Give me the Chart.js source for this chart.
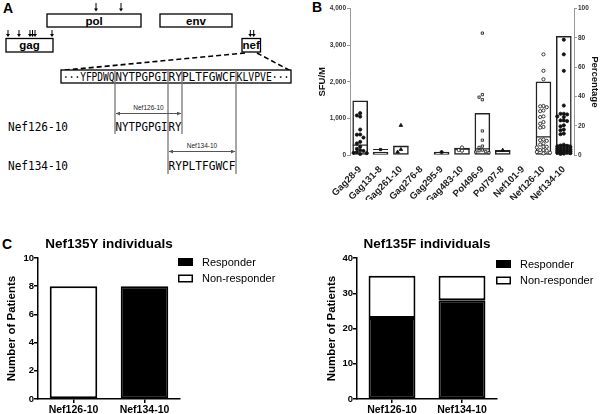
<!DOCTYPE html>
<html>
<head>
<meta charset="utf-8">
<script src="https://cdn.jsdelivr.net/npm/chart.js@4.4.1/dist/chart.umd.min.js"></script>
<style>
  html, body { margin: 0; padding: 0; background: #fff; }
  body { width: 600px; height: 414px; position: relative; overflow: hidden; font-family: 'Liberation Sans', Arial, sans-serif; }
  .letter { position: absolute; font-weight: bold; font-size: 14px; line-height: 14px; }
  canvas, svg { position: absolute; }
</style>
</head>
<body>
<div class="letter" style="left:3px;top:1px">A</div>
<div class="letter" style="left:312px;top:0px">B</div>
<div class="letter" style="left:2px;top:237px">C</div>

<svg id="panelA" width="300" height="200" style="left:0;top:0" font-family="'Liberation Sans', Arial, sans-serif">
  <defs>
    <marker id="tip" viewBox="0 0 6 6" refX="6" refY="3" markerWidth="4" markerHeight="4" orient="auto-start-reverse">
      <path d="M0,0 L6,3 L0,6 Z" fill="#555"/>
    </marker>
  </defs>
  <g id="arrows"></g>
  <g stroke="#000" stroke-width="1.6" stroke-dasharray="5 3" fill="none">
    <line x1="245" y1="53" x2="61" y2="70.5"/>
    <line x1="257" y1="53" x2="290" y2="70.5"/>
  </g>
  <g stroke="#000" stroke-width="1.3" fill="#fff">
    <rect x="47" y="14" width="94" height="13"/>
    <rect x="160" y="14" width="72" height="13"/>
    <rect x="6" y="38.5" width="47" height="13.5"/>
    <rect x="242" y="38.5" width="18.5" height="13.5"/>
    <rect x="61" y="70" width="230" height="13"/>
  </g>
  <g font-weight="bold" font-size="11.5" text-anchor="middle">
    <text x="94" y="24.5">pol</text>
    <text x="196" y="24.5">env</text>
    <text x="29.5" y="49">gag</text>
    <text x="251.2" y="49">nef</text>
  </g>
  <g stroke="#777" stroke-width="1.3">
    <line x1="115" y1="70" x2="115" y2="134"/>
    <line x1="168" y1="70" x2="168" y2="174"/>
    <line x1="182" y1="70" x2="182" y2="134"/>
    <line x1="236" y1="70" x2="236" y2="174"/>
  </g>
  <g font-family="'DejaVu Sans Mono', monospace" font-size="12.5" fill="#000">
    <text x="63" y="81" textLength="51.5" lengthAdjust="spacingAndGlyphs">···YFPDWQ</text>
    <text x="115.5" y="81" textLength="52" lengthAdjust="spacingAndGlyphs">NYTPGPGI</text>
    <text x="168.5" y="81" textLength="67" lengthAdjust="spacingAndGlyphs">RYPLTFGWCF</text>
    <text x="236.5" y="81" textLength="53" lengthAdjust="spacingAndGlyphs">KLVPVE···</text>
    <text x="8" y="131" textLength="60" lengthAdjust="spacingAndGlyphs">Nef126-10</text>
    <text x="8" y="170" textLength="60" lengthAdjust="spacingAndGlyphs">Nef134-10</text>
    <text x="115.5" y="131" textLength="52" lengthAdjust="spacingAndGlyphs">NYTPGPGI</text>
    <text x="168.5" y="131" textLength="13" lengthAdjust="spacingAndGlyphs">RY</text>
    <text x="168.5" y="170" textLength="67" lengthAdjust="spacingAndGlyphs">RYPLTFGWCF</text>
  </g>
  <g stroke="#555" stroke-width="1">
    <line x1="116" y1="113.5" x2="181" y2="113.5" marker-start="url(#tip)" marker-end="url(#tip)"/>
    <line x1="169" y1="151.5" x2="235" y2="151.5" marker-start="url(#tip)" marker-end="url(#tip)"/>
  </g>
  <g font-size="6.5" text-anchor="middle" fill="#222">
    <text x="148.5" y="109.5">Nef126-10</text>
    <text x="202" y="147.5">Nef134-10</text>
  </g>
</svg>

<canvas id="chartB" width="300" height="200" style="left:300px;top:0"></canvas>
<canvas id="chartC1" width="300" height="182" style="left:0;top:232px"></canvas>
<canvas id="chartC2" width="300" height="182" style="left:300px;top:232px"></canvas>

<script>
// ---- panel B data ----
const epitopes = ['Gag28-9', 'Gag131-8', 'Gag261-10', 'Gag276-8', 'Gag295-9', 'Gag483-10',
  'Pol496-9', 'Pol797-8', 'Nef101-9', 'Nef126-10', 'Nef134-10'];
const responderPct = [37, 2, 6.3, 0, 2, 4.7, 28.4, 3.2, 0, 50, 81];
const medianSfu = [270, 150, 225, null, null, 160, 170, 100, null, 495, 270];

const gag28 = [1144, 1080, 1050, 694, 560, 555, 477, 360, 315, 225, 170, 130, 110, 80, 60, 50, 30];
const gag131 = [150];
const gag261 = [810, 150, 80];
const gag276 = [];
const gag295 = [80];
const gag483 = [207, 135, 117];
const pol496 = [3330, 1650, 1580, 1510, 658, 405, 243, 207, 135, 117, 90, 80, 63];
const pol797 = [130];
const nef101 = [];
const nef126 = [2750, 2300, 2070, 1340, 1330, 1306, 1216, 1198, 1054, 1036, 900, 855, 766, 748,
  423, 405, 387, 315, 288, 225, 225, 207, 135, 135, 117, 81, 63, 45];
const nef134 = [3150, 2750, 2300, 1351, 1126, 1126, 1108, 1054, 1036, 946, 946, 928, 811, 784, 694, 676,
  586, 568, 280, 260, 250, 230, 220, 210, 190, 180, 170, 150, 140, 130, 120, 110, 100, 90, 80, 70, 60, 50, 40, 30];
const sfuPoints = [gag28, gag131, gag261, gag276, gag295, gag483, pol496, pol797, nef101, nef126, nef134];

// ---- panel C data ----
const patientCategories = ['Nef126-10', 'Nef134-10'];
const y135Responder = [0, 8];
const y135NonResponder = [8, 0];
const f135Responder = [23, 28];
const f135NonResponder = [12, 7];

const FONT = "'Liberation Sans', Arial, sans-serif";
Chart.defaults.font.family = FONT;
Chart.defaults.color = '#000';

// down arrows over the genome map
const arrowSpots = [
  { xs: [96, 121], y1: 3, y2: 11.5 },
  { xs: [8, 19, 30, 32.5, 35, 52], y1: 30, y2: 37 },
  { xs: [250.3, 253.7], y1: 30, y2: 37 },
];
const arrowGroup = document.getElementById('arrows');
arrowSpots.forEach(({ xs, y1, y2 }) => {
  xs.forEach((x) => {
    arrowGroup.insertAdjacentHTML('beforeend',
      `<line x1="${x}" y1="${y1}" x2="${x}" y2="${y2 - 2}" stroke="#000" stroke-width="1"/>` +
      `<path d="M${x - 2},${y2 - 3} L${x + 2},${y2 - 3} L${x},${y2} Z" fill="#000"/>`);
  });
});

// simple beeswarm so overlapping points spread sideways inside the bar
const PX_PER_SFU = 148 / 4000;
const CAT_PX = 20.4;
const swarm = (values, idx) => {
  const gap = 3.3;
  const steps = [0, -1, 1, -2, 2];
  const placed = [];
  return values.slice().sort((a, b) => b - a).map((v) => {
    const py = v * PX_PER_SFU;
    let best = 0;
    let bestD = -1;
    for (const s of steps) {
      const px = s * gap;
      const d = Math.min(Infinity, ...placed.map((p) => Math.hypot(p.px - px, p.py - py)));
      if (d >= gap) { best = px; break; }
      if (d > bestD) { bestD = d; best = px; }
    }
    placed.push({ px: best, py });
    return { x: idx + best / CAT_PX, y: v };
  });
};

const markerStyle = ['circle', 'rect', 'triangle', 'circle', 'circle', 'circle', 'rect', 'triangle', 'circle', 'circle', 'circle'];
const markerFilled = [true, true, true, true, true, false, false, true, true, false, true];

const pointSets = sfuPoints.map((vals, i) => ({
  type: 'scatter',
  data: swarm(vals, i),
  yAxisID: 'y',
  pointStyle: markerStyle[i],
  pointRadius: markerStyle[i] === 'triangle' ? 2.1 : 1.6,
  pointBorderWidth: 0.8,
  pointBorderColor: '#111',
  pointBackgroundColor: markerFilled[i] ? '#111' : '#fff',
  clip: false,
  order: 1,
}));

const medianSet = {
  type: 'scatter',
  data: medianSfu.map((v, i) => (v == null ? null : { x: i, y: v })).filter(Boolean),
  yAxisID: 'y',
  pointStyle: 'line',
  pointRadius: 7.4,
  pointBorderWidth: 1.2,
  pointBorderColor: '#222',
  order: 2,
};

const barSet = {
  type: 'bar',
  data: responderPct.map((v, i) => ({ x: i, y: v })),
  yAxisID: 'y1',
  backgroundColor: '#fff',
  borderColor: '#222',
  borderWidth: 1.5,
  borderSkipped: false,
  barThickness: 15,
  order: 3,
};

const smallTick = { size: 6.5, weight: 'bold' };

new Chart(document.getElementById('chartB'), {
  type: 'bar',
  data: { datasets: [barSet, medianSet, ...pointSets] },
  options: {
    responsive: false,
    animation: false,
    events: [],
    layout: { padding: { top: 7, left: 0, right: 0, bottom: 0 } },
    plugins: { legend: { display: false }, tooltip: { enabled: false } },
    scales: {
      x: {
        type: 'linear',
        min: -0.5,
        max: 10.5,
        offset: false,
        grid: { display: false },
        border: { display: false },
        afterBuildTicks: (s) => { s.ticks = epitopes.map((_, i) => ({ value: i })); },
        ticks: { minRotation: 45, maxRotation: 45, autoSkip: false, padding: 1, color: '#222',
          font: { size: 9.5, weight: 'bold' }, callback: (v) => epitopes[v] },
        afterFit: (s) => { s.height = 45; },
      },
      y: {
        position: 'left',
        min: 0,
        max: 4000,
        ticks: { stepSize: 1000, padding: 1, color: '#333', font: smallTick },
        grid: { drawOnChartArea: false, tickLength: 3, color: '#999' },
        border: { color: '#999', width: 1 },
        title: { display: true, text: 'SFU/M', color: '#111', font: { size: 9.5, weight: 'bold' },
          padding: { top: 17, bottom: 0 } },
        afterFit: (s) => { s.width = 50; },
      },
      y1: {
        position: 'right',
        min: 0,
        max: 100,
        ticks: { stepSize: 20, padding: 1, color: '#333', font: smallTick },
        grid: { drawOnChartArea: false, tickLength: 3, color: '#999' },
        border: { color: '#999', width: 1 },
        title: { display: true, text: 'Percentage', color: '#111', font: { size: 9.5, weight: 'bold' },
          padding: { top: 0, bottom: 0 } },
        afterFit: (s) => { s.width = 26; },
      },
    },
  },
});

// title centred over the plot area
const plotTitle = {
  id: 'plotTitle',
  afterDraw(chart, args, opts) {
    const { ctx, chartArea } = chart;
    ctx.save();
    ctx.font = `bold 13.5px ${FONT}`;
    ctx.fillStyle = '#000';
    ctx.textAlign = 'center';
    ctx.textBaseline = 'middle';
    ctx.fillText(opts.text, (chartArea.left + chartArea.right) / 2, opts.y);
    ctx.restore();
  },
};

// legend with boxes to the right of the plot
const sideLegend = {
  id: 'sideLegend',
  afterDraw(chart, args, opts) {
    const { ctx } = chart;
    ctx.save();
    ctx.font = `11px ${FONT}`;
    ctx.textBaseline = 'middle';
    chart.data.datasets.forEach((ds, i) => {
      const top = opts.y + i * opts.gap;
      ctx.fillStyle = ds.backgroundColor;
      ctx.fillRect(opts.x, top, 15, 8);
      ctx.strokeStyle = '#000';
      ctx.lineWidth = 1.5;
      ctx.strokeRect(opts.x + 0.75, top + 0.75, 13.5, 6.5);
      ctx.fillStyle = '#000';
      ctx.fillText(ds.label, opts.x + 24, top + 4.5);
    });
    ctx.restore();
  },
};

const patientChart = (id, responder, nonResponder, yMax, yStep, title, padLeft, padRight, titlePad, legendX, legendY) => {
  const axisLine = { color: '#000', width: 1.5 };
  return new Chart(document.getElementById(id), {
    type: 'bar',
    data: {
      labels: patientCategories,
      datasets: [
        { label: 'Responder', data: responder, backgroundColor: '#000', borderColor: '#000' },
        { label: 'Non-responder', data: nonResponder, backgroundColor: '#fff', borderColor: '#000' },
      ].map((d) => ({ ...d, borderWidth: 2, borderSkipped: false, barPercentage: 0.67, categoryPercentage: 1 })),
    },
    plugins: [plotTitle, sideLegend],
    options: {
      responsive: false,
      animation: false,
      events: [],
      layout: { padding: { top: 26, left: padLeft, right: padRight, bottom: 0 } },
      plugins: {
        legend: { display: false },
        tooltip: { enabled: false },
        plotTitle: { text: title, y: 12 },
        sideLegend: { x: legendX, y: legendY, gap: 16.5 },
      },
      scales: {
        x: {
          stacked: true,
          offset: true,
          grid: { offset: false, drawOnChartArea: false, tickLength: 4, color: '#000', lineWidth: 1.5 },
          border: axisLine,
          ticks: { padding: 1, color: '#000', font: { size: 10.5, weight: 'bold' } },
          afterFit: (s) => { s.height = 15; },
        },
        y: {
          stacked: true,
          min: 0,
          max: yMax,
          ticks: { stepSize: yStep, padding: 0, color: '#000', font: { size: 9.5, weight: 'bold' } },
          grid: { drawOnChartArea: false, tickLength: 4, color: '#000', lineWidth: 1.5 },
          border: axisLine,
          title: { display: true, text: 'Number of Patients', color: '#000', font: { size: 11.5, weight: 'bold' },
            padding: { top: titlePad, bottom: 0 } },
          afterFit: (s) => { s.width = 38; },
        },
      },
    },
  });
};

patientChart('chartC1', y135Responder, y135NonResponder, 10, 2, 'Nef135Y individuals', 0, 120, 5, 178, 26);
patientChart('chartC2', f135Responder, f135NonResponder, 40, 10, 'Nef135F individuals', 19, 103, 6, 196, 28);
</script>
</body>
</html>
